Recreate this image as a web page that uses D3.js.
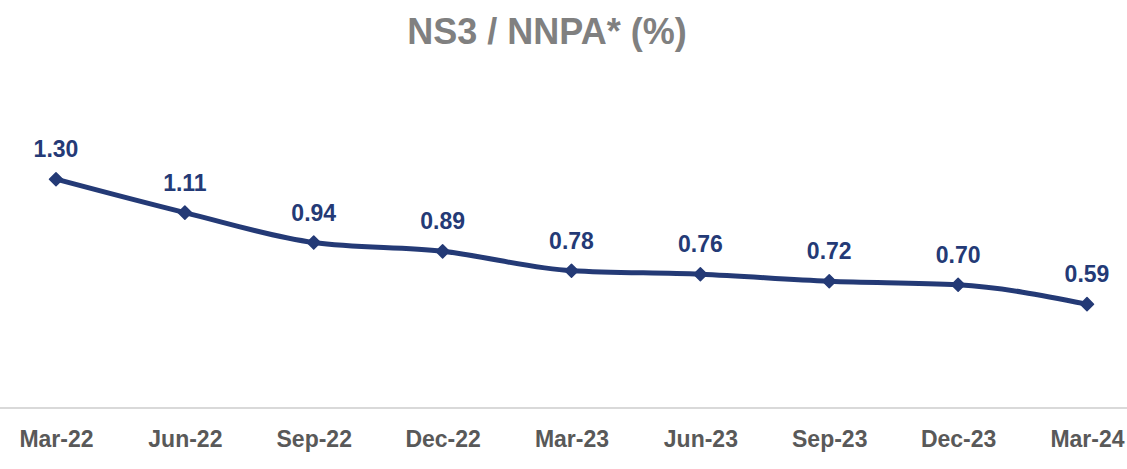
<!DOCTYPE html>
<html lang="en">
<head>
    <meta charset="UTF-8">
    <title>NS3 / NNPA</title>
    <script src="https://d3js.org/d3.v7.min.js"></script>
    <style>
        body { margin: 0; background: #fff; }
        text { font-family: "Liberation Sans", Arial, sans-serif; font-weight: bold; }
    </style>
</head>
<body>
<script>
    const quarters = ["Mar-22", "Jun-22", "Sep-22", "Dec-22", "Mar-23", "Jun-23", "Sep-23", "Dec-23", "Mar-24"];
    const nnpa = [1.30, 1.11, 0.94, 0.89, 0.78, 0.76, 0.72, 0.70, 0.59];
    const title = "NS3 / NNPA* (%)";

    const WIDTH = 1127, HEIGHT = 469;
    const NAVY = "#243a76";

    const svg = d3.select("body").append("svg").attr("width", WIDTH).attr("height", HEIGHT);

    const x = d3.scalePoint().domain(quarters).range([56, 1087]);
    const y = d3.scaleLinear().domain([0, 1.5]).range([408, 144]);

    svg.append("text")
        .attr("x", 547).attr("y", 44)
        .attr("text-anchor", "middle")
        .style("font-size", "36px")
        .style("fill", "#808080")
        .text(title);

    // axis line + labels
    const xAxis = svg.append("g").attr("transform", "translate(0,408)")
        .call(d3.axisBottom(x).tickSize(0).tickPadding(0));
    xAxis.select(".domain").remove();
    xAxis.append("line").attr("x1", 0).attr("x2", WIDTH).attr("stroke", "#d9d9d9").attr("stroke-width", 2);
    xAxis.selectAll(".tick text")
        .style("font-size", "23px")
        .style("fill", "#595959")
        .style("font-family", "'Liberation Sans', Arial, sans-serif")
        .attr("y", 39)
        .attr("dy", null);

    const pts = quarters.map((q, i) => [x(q), y(nnpa[i])]);

    svg.append("path")
        .attr("d", d3.line().curve(d3.curveMonotoneX)(pts))
        .attr("fill", "none")
        .attr("stroke", NAVY)
        .attr("stroke-width", 5)
        .attr("stroke-linejoin", "round");

    svg.selectAll(".pt").data(pts).enter().append("path")
        .attr("class", "pt")
        .attr("transform", d => `translate(${d[0]},${d[1]}) rotate(45)`)
        .attr("d", d3.symbol(d3.symbolSquare, 85))
        .attr("fill", NAVY)
        .attr("stroke", NAVY)
        .attr("stroke-width", 1.5)
        .attr("stroke-linejoin", "round");

    svg.selectAll(".lbl").data(nnpa).enter().append("text")
        .attr("class", "lbl")
        .attr("x", (d, i) => x(quarters[i]))
        .attr("y", d => y(d) - 22)
        .attr("text-anchor", "middle")
        .style("font-size", "23px")
        .style("fill", NAVY)
        .text(d => d.toFixed(2));
</script>
</body>
</html>
